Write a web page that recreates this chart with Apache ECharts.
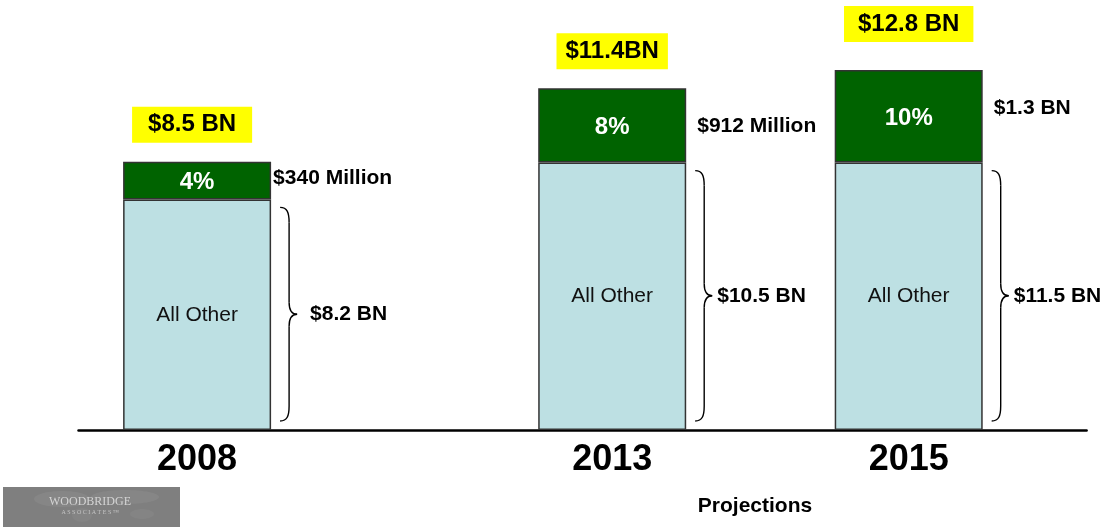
<!DOCTYPE html>
<html><head><meta charset="utf-8">
<script src="https://cdn.jsdelivr.net/npm/echarts@6/dist/echarts.min.js"></script>
<style>html,body{margin:0;padding:0;background:#fff}#c{width:1105px;height:527px}</style>
</head><body><div id="c"></div>
<script>
// ---- data (heights as drawn in the picture, labels as printed) ----
const years = ['2008', '2013', '2015'];
const otherValues = [8.58, 9.95, 9.95];
const segmentValues = [1.40, 2.77, 3.45];
const totalLabels = ['$8.5 BN', '$11.4BN', '$12.8 BN'];
const shareLabels = ['4%', '8%', '10%'];
const segmentLabels = ['$340 Million', '$912 Million', '$1.3 BN'];
const otherLabels = ['$8.2 BN', '$10.5 BN', '$11.5 BN'];
const otherName = 'All Other';

// ---- layout ----
const SLOTS = 18;
const yearSlot = [2, 9, 14];
const boxPad = [16, 9, 14];
const boxDx = [-5, 0, 0];
const boxGap = [19, 19, 28];
const sideDx = [2, 11, 11];
const sideDy = [-2, 1, -8];
const braceLabelDx = [39, 31, 31];
const FONT = '"Liberation Sans", Arial, sans-serif';
const HALF = 74;

const cats = Array.from({length: SLOTS}, (_, i) => {
  const k = yearSlot.indexOf(i);
  return k >= 0 ? years[k] : '_' + i;
});
const otherData = Array(SLOTS).fill('-');
const segData = Array(SLOTS).fill('-');
yearSlot.forEach((s, i) => { otherData[s] = otherValues[i]; segData[s] = segmentValues[i]; });

function renderAnno(params, api) {
  const x = api.value(0), o = api.value(1), t = api.value(2), i = api.value(3);
  const pb = api.coord([x, 0]), po = api.coord([x, o]), pt = api.coord([x, t]);
  const cx = pb[0], right = cx + HALF;
  const x0 = right + 9, xm = x0 + 9, xp = x0 + 17;
  const y0 = po[1] + 8, y1 = pb[1] - 9, ym = (y0 + y1) / 2;
  const ls = {stroke: '#000', lineWidth: 1.4, fill: null};
  const children = [
    {type: 'text', x: cx + boxDx[i], y: pt[1] - boxGap[i], style: {
      text: totalLabels[i], fill: '#000', font: 'bold 24px ' + FONT, align: 'center', verticalAlign: 'bottom',
      lineHeight: 26, backgroundColor: '#ffff00', padding: [5, boxPad[i], 5, boxPad[i]]}},
    {type: 'text', x: right + sideDx[i], y: (po[1] + pt[1]) / 2 + sideDy[i], style: {
      text: segmentLabels[i], fill: '#000', font: 'bold 21px ' + FONT, align: 'left', verticalAlign: 'middle'}},
    {type: 'bezierCurve', shape: {x1: x0, y1: y0, cpx1: x0 + 7, cpy1: y0, cpx2: xm, cpy2: y0 + 5, x2: xm, y2: y0 + 15}, style: ls},
    {type: 'line', shape: {x1: xm, y1: y0 + 15, x2: xm, y2: ym - 12}, style: ls},
    {type: 'bezierCurve', shape: {x1: xm, y1: ym - 12, cpx1: xm, cpy1: ym - 3, cpx2: xm + 3, cpy2: ym, x2: xp, y2: ym}, style: ls},
    {type: 'bezierCurve', shape: {x1: xp, y1: ym, cpx1: xm + 3, cpy1: ym, cpx2: xm, cpy2: ym + 3, x2: xm, y2: ym + 12}, style: ls},
    {type: 'line', shape: {x1: xm, y1: ym + 12, x2: xm, y2: y1 - 15}, style: ls},
    {type: 'bezierCurve', shape: {x1: xm, y1: y1 - 15, cpx1: xm, cpy1: y1 - 5, cpx2: x0 + 7, cpy2: y1, x2: x0, y2: y1}, style: ls},
    {type: 'text', x: right + braceLabelDx[i], y: ym, style: {
      text: otherLabels[i], fill: '#000', font: 'bold 21px ' + FONT, align: 'left', verticalAlign: 'middle'}}
  ];
  return {type: 'group', children};
}

const chart = echarts.init(document.getElementById('c'), null, {renderer: 'canvas'});
chart.setOption({
  animation: false,
  backgroundColor: '#fff',
  grid: {left: 78.5, right: 18.4, top: 0, bottom: 97, outerBoundsMode: 'none', containLabel: false},
  xAxis: {
    type: 'category', data: cats, boundaryGap: false,
    axisLine: {lineStyle: {color: '#000', width: 2.5}},
    axisTick: {show: false}, splitLine: {show: false},
    axisLabel: {interval: 0, margin: 12, fontSize: 36, fontWeight: 'bold', color: '#000', fontFamily: FONT,
      formatter: v => v.charAt(0) === '_' ? '' : v}
  },
  yAxis: {type: 'value', min: 0, max: 16, show: false},
  series: [
    {type: 'bar', name: otherName, stack: 'a', data: otherData, barWidth: 148,
      itemStyle: {color: '#bde0e3', borderColor: '#333', borderWidth: 1.5},
      label: {show: true, position: 'inside', formatter: otherName, fontSize: 21, color: '#111', fontFamily: FONT}},
    {type: 'bar', name: 'segment', stack: 'a', data: segData, barWidth: 148,
      itemStyle: {color: '#006300', borderColor: '#333', borderWidth: 1.5},
      label: {show: true, position: 'inside', offset: [0, 2], fontSize: 24, fontWeight: 'bold', color: '#fff', fontFamily: FONT,
        formatter: p => shareLabels[yearSlot.indexOf(p.dataIndex)]}},
    {type: 'custom', renderItem: renderAnno, clip: false, z: 5,
      data: yearSlot.map((s, i) => [s, otherValues[i], otherValues[i] + segmentValues[i], i])}
  ],
  graphic: [
    {type: 'rect', left: 3, top: 487, shape: {width: 177, height: 40}, style: {fill: '#7f7f7f'}},
    {type: 'ellipse', shape: {cx: 62, cy: 499, rx: 28, ry: 8}, style: {fill: '#868686'}},
    {type: 'ellipse', shape: {cx: 125, cy: 497, rx: 34, ry: 7}, style: {fill: '#868686'}},
    {type: 'ellipse', shape: {cx: 82, cy: 515, rx: 10, ry: 7}, style: {fill: '#848484'}},
    {type: 'ellipse', shape: {cx: 142, cy: 514, rx: 12, ry: 5}, style: {fill: '#848484'}},
    {type: 'text', x: 90, y: 502, style: {text: 'WOODBRIDGE', fill: '#d4d4d4', font: '12px "Liberation Serif", serif', align: 'center', verticalAlign: 'middle'}},
    {type: 'text', x: 90, y: 512, style: {text: 'A S S O C I A T E S ™', fill: '#c4c4c4', font: '6px "Liberation Serif", serif', align: 'center', verticalAlign: 'middle'}},
    {type: 'text', x: 755, y: 506, style: {text: 'Projections', fill: '#000', font: 'bold 21px ' + FONT, align: 'center', verticalAlign: 'middle'}}
  ]
});
</script></body></html>
